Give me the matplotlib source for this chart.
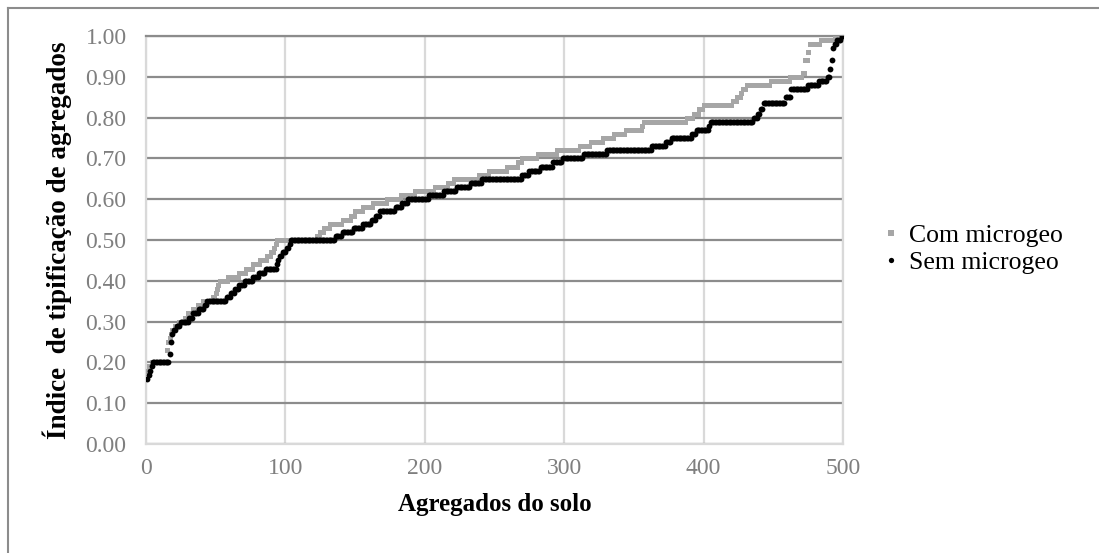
import numpy as np
import matplotlib.pyplot as plt
from matplotlib.lines import Line2D
from matplotlib.ticker import FormatStrFormatter, MultipleLocator

plt.rcParams["font.family"] = ["Liberation Serif", "DejaVu Serif"]

# -------------------------
# Daten: sortierte Indexwerte als (Wert, Anzahl) Stufen
# -------------------------

com_levels = [0.18, 0.19, 0.20, 0.23, 0.25, 0.26, 0.27, 0.28, 0.29, 0.30,
              0.31, 0.32, 0.33, 0.34, 0.35, 0.36, 0.37, 0.38, 0.39, 0.40,
              0.41, 0.42, 0.43, 0.44, 0.45, 0.46, 0.47, 0.48, 0.49, 0.50,
              0.51, 0.52, 0.53, 0.54, 0.55, 0.56, 0.57, 0.58, 0.59, 0.60,
              0.61, 0.62, 0.63, 0.64, 0.65, 0.66, 0.67, 0.68, 0.69, 0.70,
              0.71, 0.72, 0.73, 0.74, 0.75, 0.76, 0.77, 0.78, 0.79, 0.80,
              0.81, 0.82, 0.83, 0.84, 0.85, 0.86, 0.87, 0.88, 0.89, 0.90,
              0.91, 0.94, 0.96, 0.98, 0.99, 1.00]
com_counts = [1, 2, 11, 1, 1, 1, 1, 2, 3, 4,
              2, 4, 3, 4, 7, 2, 1, 1, 1, 6,
              8, 5, 5, 5, 5, 3, 2, 1, 1, 29,
              2, 3, 4, 9, 6, 3, 6, 7, 10, 10,
              10, 14, 10, 4, 18, 7, 13, 8, 3, 11,
              14, 16, 8, 9, 8, 8, 12, 1, 31, 5,
              4, 3, 21, 3, 3, 1, 3, 17, 14, 9,
              2, 2, 1, 8, 10, 7]

sem_levels = [0.16, 0.17, 0.18, 0.19, 0.20, 0.22, 0.25, 0.27, 0.28, 0.29,
              0.30, 0.31, 0.32, 0.33, 0.34, 0.35, 0.36, 0.37, 0.38, 0.39,
              0.40, 0.41, 0.42, 0.43, 0.44, 0.45, 0.46, 0.47, 0.48, 0.49,
              0.50, 0.51, 0.52, 0.53, 0.54, 0.55, 0.56, 0.57, 0.58, 0.59,
              0.60, 0.61, 0.62, 0.63, 0.64, 0.65, 0.66, 0.67, 0.68, 0.69,
              0.70, 0.71, 0.72, 0.73, 0.74, 0.75, 0.76, 0.77, 0.78, 0.79,
              0.80, 0.81, 0.82, 0.835, 0.85, 0.87, 0.88, 0.89, 0.90, 0.92,
              0.94, 0.97, 0.98, 0.99, 1.00]
sem_counts = [1, 1, 1, 1, 12, 1, 1, 1, 2, 3,
              6, 3, 4, 4, 2, 14, 3, 3, 3, 4,
              6, 4, 5, 8, 1, 1, 2, 3, 2, 1,
              32, 5, 8, 7, 6, 3, 3, 11, 5, 4,
              15, 11, 9, 10, 8, 29, 5, 8, 9, 7,
              15, 17, 32, 10, 4, 15, 3, 9, 1, 31,
              3, 2, 2, 16, 4, 12, 8, 6, 2, 1,
              1, 1, 2, 3, 2]

com_vals = np.repeat(com_levels, com_counts)
sem_vals = np.repeat(sem_levels, sem_counts)
com_x = np.arange(1, len(com_vals) + 1)
sem_x = np.arange(1, len(sem_vals) + 1)

COLOR_COM = "#a6a6a6"
COLOR_SEM = "#000000"
TICK_COLOR = "#7f7f7f"

# -------------------------
# Diagramm
# -------------------------

fig = plt.figure(figsize=(10.99, 5.53), dpi=100, facecolor="white")
ax = fig.add_axes([146 / 1099, 1 - 444 / 553, 697 / 1099, 408 / 553])

ax.plot(com_x, com_vals, linestyle="none", marker="s", markersize=3.6,
        color=COLOR_COM, markeredgewidth=0, zorder=3)
ax.plot(sem_x, sem_vals, linestyle="none", marker="o", markersize=4.2,
        color=COLOR_SEM, markeredgewidth=0, zorder=4)

ax.set_xlim(0, 500)
ax.set_ylim(0, 1.0)
ax.xaxis.set_major_locator(MultipleLocator(100))
ax.yaxis.set_major_locator(MultipleLocator(0.1))
ax.yaxis.set_major_formatter(FormatStrFormatter("%.2f"))

ax.yaxis.grid(True, color="#8c8c8c", linewidth=1.6)
ax.xaxis.grid(True, color="#d9d9d9", linewidth=1.6)
ax.set_axisbelow(True)

for side in ["left", "bottom", "right"]:
    ax.spines[side].set_color("#d9d9d9")
    ax.spines[side].set_linewidth(1.6)
ax.spines["top"].set_color("#8c8c8c")
ax.spines["top"].set_linewidth(1.6)

ax.tick_params(length=0, labelsize=17, labelcolor=TICK_COLOR)
ax.tick_params(axis="x", pad=10)
ax.tick_params(axis="y", pad=14)

ax.set_xlabel("Agregados do solo", fontsize=18, fontweight="bold", labelpad=10)
ax.set_ylabel("Índice  de tipificação de agregados", fontsize=19.5,
              fontweight="bold", labelpad=10)

# Legende
legend_elements = [
    Line2D([0], [0], linestyle="none", marker="s", markersize=3.8,
           color=COLOR_COM, markeredgewidth=0, label="Com microgeo"),
    Line2D([0], [0], linestyle="none", marker="o", markersize=3.8,
           color=COLOR_SEM, markeredgewidth=0, label="Sem microgeo"),
]
fig.legend(handles=legend_elements, loc="center left",
           bbox_to_anchor=(860 / 1099, 1 - 249 / 553), frameon=False,
           fontsize=18.5, handlelength=0.6, handletextpad=0.4, labelspacing=0.15)

# Rahmen um die Grafik
fig.add_artist(Line2D([8 / 1099, 8 / 1099], [0, 1 - 8 / 553],
                      transform=fig.transFigure, color="#8c8c8c", linewidth=1.5))
fig.add_artist(Line2D([8 / 1099, 1], [1 - 8 / 553, 1 - 8 / 553],
                      transform=fig.transFigure, color="#8c8c8c", linewidth=1.5))

plt.savefig("out.png", dpi=100)
